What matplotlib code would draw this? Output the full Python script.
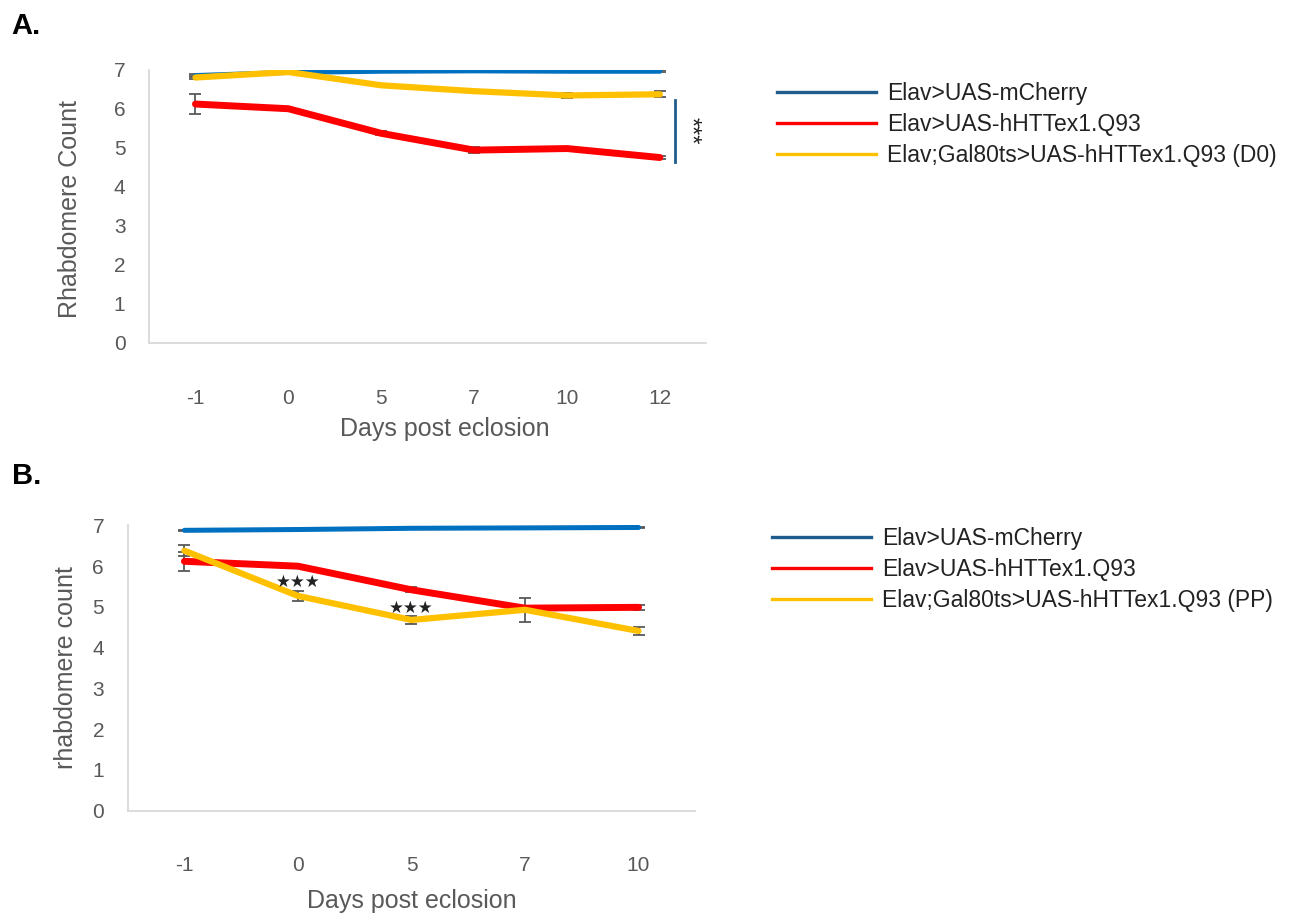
import matplotlib.pyplot as plt
from matplotlib.lines import Line2D
import numpy as np

plt.rcParams['font.family'] = ['Liberation Sans', 'DejaVu Sans']

# Panel A: D0 shift
days_a = ['-1', '0', '5', '7', '10', '12']
mcherry_a = [6.85, 6.93, 6.96, 6.97, 6.96, 6.96]
mcherry_a_err = [0.03, 0.02, 0.02, 0.02, 0.02, 0.02]
q93_a = [6.12, 6.00, 5.37, 4.94, 4.98, 4.75]
q93_a_err = [0.25, 0.03, 0.05, 0.07, 0.04, 0.03]
gal80_d0 = [6.80, 6.94, 6.60, 6.45, 6.34, 6.37]
gal80_d0_err = [0.03, 0.02, 0.02, 0.02, 0.07, 0.08]

# Panel B: PP shift
days_b = ['-1', '0', '5', '7', '10']
mcherry_b = [6.88, 6.90, 6.93, 6.94, 6.95]
mcherry_b_err = [0.02, 0.02, 0.02, 0.02, 0.02]
q93_b = [6.12, 6.00, 5.42, 4.97, 4.99]
q93_b_err = [0.23, 0.03, 0.06, 0.05, 0.06]
gal80_pp = [6.38, 5.27, 4.68, 4.93, 4.41]
gal80_pp_err = [0.13, 0.12, 0.10, 0.30, 0.10]

labels_a = ['Elav>UAS-mCherry', 'Elav>UAS-hHTTex1.Q93',
            'Elav;Gal80ts>UAS-hHTTex1.Q93 (D0)']
labels_b = ['Elav>UAS-mCherry', 'Elav>UAS-hHTTex1.Q93',
            'Elav;Gal80ts>UAS-hHTTex1.Q93 (PP)']

BLUE = '#0070C0'
RED = '#FF0000'
YELLOW = '#FFC000'
LEG_BLUE = '#1F5C8B'
GREY = '#595959'


def draw_panel(ax, days, series, ylabel):
    x = np.arange(len(days))
    for vals, errs, color, lw in series:
        ax.errorbar(x, vals, yerr=errs, color=color, lw=lw,
                    ecolor=GREY, elinewidth=1.3, capsize=4, capthick=1.3,
                    solid_capstyle='round')
    ax.set_xlim(-0.5, len(days) - 0.5)
    ax.set_ylim(0, 7)
    ax.set_xticks(x)
    ax.set_xticklabels(days)
    ax.set_yticks(range(8))
    ax.tick_params(length=0, labelsize=15, colors=GREY)
    ax.tick_params(axis='x', pad=33)
    ax.tick_params(axis='y', pad=17)
    for s in ['top', 'right']:
        ax.spines[s].set_visible(False)
    for s in ['left', 'bottom']:
        ax.spines[s].set_color('#D9D9D9')
        ax.spines[s].set_linewidth(1.3)
    ax.set_xlabel('Days post eclosion', fontsize=18, color=GREY, labelpad=10)
    ax.set_ylabel(ylabel, fontsize=18, color=GREY, labelpad=10)


fig = plt.figure(figsize=(12.96, 9.17), dpi=100)

ax_a = fig.add_axes([0.1150, 0.626, 0.430, 0.298])
draw_panel(ax_a, days_a,
           [(mcherry_a, mcherry_a_err, BLUE, 3.6),
            (q93_a, q93_a_err, RED, 5.0),
            (gal80_d0, gal80_d0_err, YELLOW, 4.5)],
           'Rhabdomere Count')
ax_a.xaxis.set_label_coords(0.53, -0.27)
ax_a.yaxis.set_label_coords(-0.12, 0.49)
# significance bracket between Q93 and D0 at day 12
ax_a.plot([5.16, 5.16], [4.64, 6.23], color=LEG_BLUE, lw=2, clip_on=False)
ax_a.text(5.33, 5.43, '***', rotation=-90, ha='center', va='center',
          fontsize=17, color='#222222')

ax_b = fig.add_axes([0.0985, 0.116, 0.438, 0.311])
draw_panel(ax_b, days_b,
           [(mcherry_b, mcherry_b_err, BLUE, 3.6),
            (q93_b, q93_b_err, RED, 5.0),
            (gal80_pp, gal80_pp_err, YELLOW, 4.5)],
           'rhabdomere count')
ax_b.text(1, 5.62, '★★★', ha='center', va='center', fontsize=12,
          family=['DejaVu Sans'], color='#222222')
ax_b.text(2, 4.97, '★★★', ha='center', va='center', fontsize=12,
          family=['DejaVu Sans'], color='#222222')

leg_colors = [LEG_BLUE, RED, YELLOW]
for labels, anchor in [(labels_a, (0.584, 0.933)), (labels_b, (0.580, 0.448))]:
    handles = [Line2D([], [], color=c, lw=2.4) for c in leg_colors]
    fig.legend(handles, labels, loc='upper left', bbox_to_anchor=anchor,
               frameon=False, fontsize=16.5, handlelength=4.3, handletextpad=0.5,
               labelspacing=0.35, labelcolor='#222222')

fig.text(0.009, 0.972, 'A.', fontsize=21, fontweight='bold', va='center')
fig.text(0.009, 0.481, 'B.', fontsize=21, fontweight='bold', va='center')

fig.savefig('out.png', dpi=100)
